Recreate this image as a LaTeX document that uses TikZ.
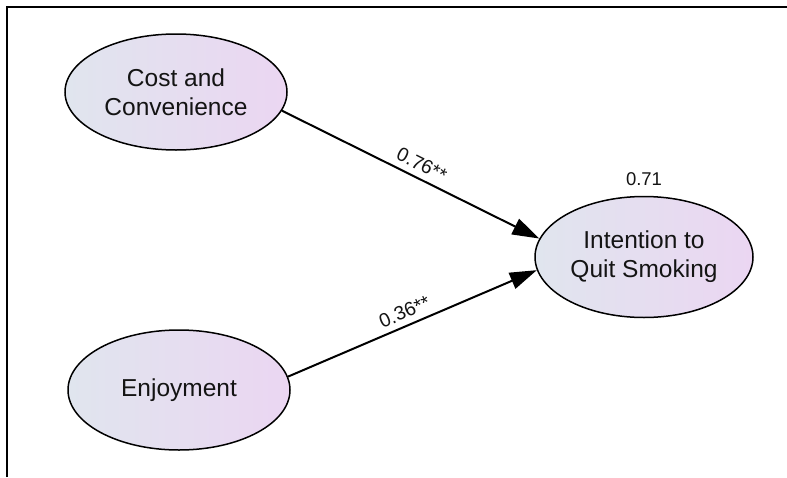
\documentclass[tikz,border=0pt]{standalone}
\usepackage{fontspec}
\setmainfont{Liberation Sans}
\usetikzlibrary{shapes.geometric,arrows.meta}
\definecolor{gleft}{RGB}{224,229,238}
\definecolor{gright}{RGB}{235,214,242}
\definecolor{txt}{RGB}{20,20,20}
\tikzset{
  construct/.style={ellipse, draw=black, line width=1.5pt, left color=gleft, right color=gright,
    inner sep=0pt, align=center, text=txt, font=\fontsize{24.5}{29}\selectfont},
  path/.style={line width=2pt, -{Triangle[length=27pt,width=17pt]}},
  coef/.style={font=\fontsize{19.5}{21}\selectfont, text=txt, sloped, inner sep=1pt}
}
\begin{document}
\begin{tikzpicture}[x=1pt,y=-1pt]
\useasboundingbox (0,0) rectangle (787,477);
\fill[white] (0,0) rectangle (787,477);
\draw[line width=2pt] (7,477) -- (7,7) -- (787,7);
\node[construct, minimum width=222pt, minimum height=116pt] (cost) at (176,92) {Cost and\\Convenience};
\node[construct, minimum width=222pt, minimum height=120pt] (enj) at (179,390) {Enjoyment};
\node[construct, minimum width=218pt, minimum height=121pt] (int) at (644,257) {Intention to\\Quit Smoking};
\node[font=\fontsize{18.5}{20}\selectfont, text=txt, above=7pt] (r2) at (int.north) {0.71};
\draw[path] (cost.-10.7) -- node[coef, pos=0.52, above=5pt] {0.76**} (int.170);
\draw[path] (enj.7) -- node[coef, pos=0.49, above=5pt] {0.36**} (int.-173);
\end{tikzpicture}
\end{document}
